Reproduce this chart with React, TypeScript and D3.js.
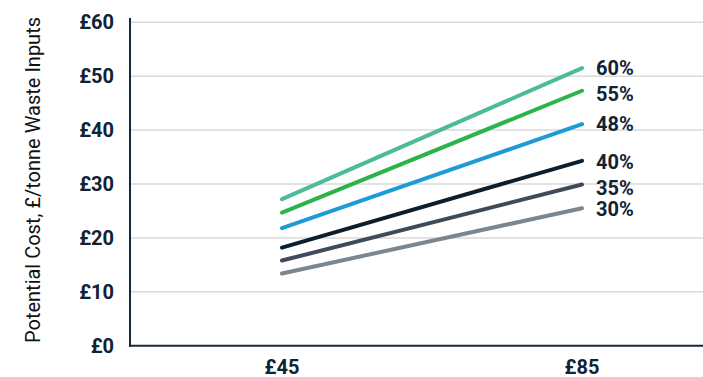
import React from "react";
import * as d3 from "d3";

const categories = ["£45", "£85"];
const seriesNames = ["60%", "55%", "48%", "40%", "35%", "30%"];
const s60 = [27.2, 51.5];
const s55 = [24.7, 47.3];
const s48 = [21.8, 41.1];
const s40 = [18.2, 34.3];
const s35 = [15.8, 29.9];
const s30 = [13.4, 25.5];
const yTicks = [0, 10, 20, 30, 40, 50, 60];
const colors = ["#4cbb97", "#2cb34a", "#1c9bd6", "#0c1f2f", "#3f4a5a", "#7b868f"];
const labelNudge = [0, 3.5, 0, 1, 3, 1];

const W = 703;
const H = 377;
const left = 130;
const bottom = 345.7;
const top = 22.3;
const textColor = "#0f2335";
const font = "Roboto, 'Noto Sans', sans-serif";

export default function App() {
  const series = [s60, s55, s48, s40, s35, s30];
  const x = d3.scalePoint<string>().domain(categories).range([282, 582]);
  const y = d3.scaleLinear().domain([0, 60]).range([bottom, top]);
  const line = d3
    .line<number>()
    .x((_, i) => x(categories[i]) as number)
    .y((d) => y(d));

  return (
    <svg
      width={W}
      height={H}
      style={{ position: "absolute", left: 0, top: 0, background: "#fff" }}
    >
      {yTicks.slice(1).map((t) => (
        <line key={"g" + t} x1={left} x2={W} y1={y(t)} y2={y(t)} stroke="#dadada" strokeWidth={1.5} />
      ))}
      {yTicks.map((t) => (
        <text
          key={"t" + t}
          x={114}
          y={y(t)}
          dy="0.35em"
          textAnchor="end"
          fontFamily={font}
          fontWeight={700}
          fontSize={20}
          fill={textColor}
        >
          {"£" + t}
        </text>
      ))}
      <line x1={left} x2={left} y1={18} y2={bottom + 1} stroke="#13293d" strokeWidth={2} />
      <line x1={left - 1} x2={W} y1={bottom} y2={bottom} stroke="#13293d" strokeWidth={2} />
      {categories.map((c) => (
        <text
          key={c}
          x={x(c) as number}
          y={366.5}
          dy="0.35em"
          textAnchor="middle"
          fontFamily={font}
          fontWeight={700}
          fontSize={20}
          fill={textColor}
        >
          {c}
        </text>
      ))}
      <text
        transform={`translate(40,180) rotate(-90)`}
        textAnchor="middle"
        fontFamily={font}
        fontSize={20}
        fill="#111"
      >
        Potential Cost, £/tonne Waste Inputs
      </text>
      {series.map((s, i) => (
        <path
          key={seriesNames[i]}
          d={line(s) as string}
          fill="none"
          stroke={colors[i]}
          strokeWidth={4}
          strokeLinecap="round"
        />
      ))}
      {series.map((s, i) => (
        <text
          key={"l" + seriesNames[i]}
          x={596}
          y={y(s[1]) + labelNudge[i]}
          dy="0.35em"
          fontFamily={font}
          fontWeight={700}
          fontSize={20}
          fill={textColor}
        >
          {seriesNames[i]}
        </text>
      ))}
    </svg>
  );
}
